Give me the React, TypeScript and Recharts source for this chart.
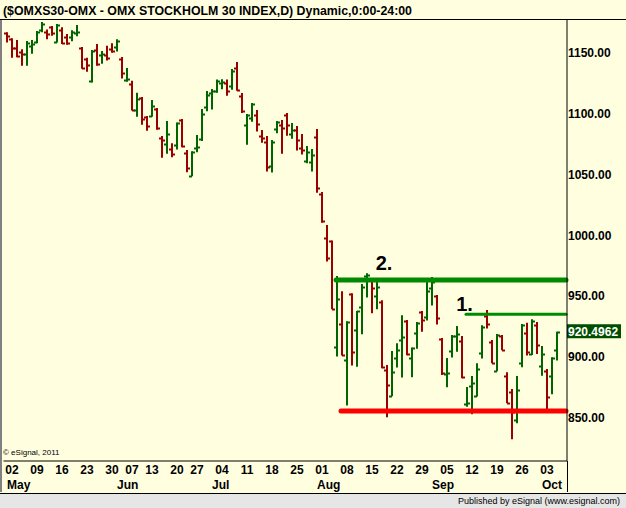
import React from 'react';
import { ComposedChart, Bar, Line, XAxis, YAxis, ReferenceLine, ReferenceDot } from 'recharts';

// ---- data ----
const dates = [
  '04-29',
  '05-02', '05-03', '05-04', '05-05', '05-06', '05-09', '05-10', '05-11', '05-12', '05-13',
  '05-16', '05-17', '05-18', '05-19', '05-20', '05-23', '05-24', '05-25', '05-26', '05-27',
  '05-30', '05-31', '06-01', '06-03', '06-07', '06-08', '06-09', '06-10',
  '06-13', '06-14', '06-15', '06-16', '06-17', '06-20', '06-21', '06-22', '06-23',
  '06-27', '06-28', '06-29', '06-30', '07-01', '07-04', '07-05', '07-06', '07-07', '07-08',
  '07-11', '07-12', '07-13', '07-14', '07-15', '07-18', '07-19', '07-20', '07-21', '07-22',
  '07-25', '07-26', '07-27', '07-28', '07-29', '08-01', '08-02', '08-03', '08-04', '08-05',
  '08-08', '08-09', '08-10', '08-11', '08-12', '08-15', '08-16', '08-17', '08-18', '08-19',
  '08-22', '08-23', '08-24', '08-25', '08-26', '08-29', '08-30', '08-31', '09-01', '09-02',
  '09-05', '09-06', '09-07', '09-08', '09-09', '09-12', '09-13', '09-14', '09-15', '09-16',
  '09-19', '09-20', '09-21', '09-22', '09-23', '09-26', '09-27', '09-28', '09-29', '09-30',
  '10-03', '10-04', '10-05',
];
const ghostDates = ['g1', 'g2'];

const opens = [
  1166.9, 1161.7, 1154.0, 1150.7, 1149.1, 1155.9, 1158.9, 1168.8, 1167.2, 1171.5,
  1159.0, 1169.4, 1163.0, 1163.0, 1166.3, 1154.3, 1145.2, 1127.4, 1152.9, 1148.5,
  1148.5, 1153.5, 1154.8, 1145.2, 1128.0, 1124.7, 1103.0, 1113.4, 1097.5, 1098.6,
  1104.4, 1080.6, 1075.1, 1071.5, 1074.3, 1095.1, 1067.9, 1049.3, 1072.3, 1079.2,
  1105.8, 1117.6, 1119.2, 1125.2, 1125.2, 1123.0, 1137.6, 1114.8, 1090.7, 1096.4,
  1098.9, 1081.6, 1077.0, 1057.2, 1087.7, 1090.9, 1098.9, 1083.3, 1086.6, 1071.8,
  1061.4, 1060.3, 1080.8, 1034.2, 997.8, 995.6, 908.7, 927.3, 897.7, 952.3,
  922.1, 941.0, 966.5, 963.5, 950.3, 945.4, 889.2, 868.1, 899.4, 914.2,
  929.5, 899.6, 919.6, 937.2, 932.8, 956.6, 950.6, 915.3, 885.9, 905.3,
  917.2, 913.3, 861.7, 876.3, 868.1, 903.2, 933.9, 912.8, 888.6, 917.4,
  884.5, 871.1, 848.1, 895.0, 920.2, 902.6, 926.5, 892.8, 888.6, 884.5,
  905.9,
];
const highs = [
  1167.2, 1162.2, 1160.9, 1153.2, 1160.0, 1160.9, 1168.3, 1175.7, 1169.4, 1172.4,
  1174.0, 1171.3, 1165.8, 1168.8, 1173.2, 1155.1, 1146.3, 1152.6, 1157.6, 1151.8,
  1156.2, 1158.1, 1161.4, 1146.9, 1137.8, 1127.4, 1117.5, 1114.0, 1098.4, 1111.5,
  1105.0, 1081.9, 1094.3, 1075.9, 1092.9, 1095.9, 1070.4, 1069.3, 1082.7, 1104.1,
  1118.9, 1120.6, 1128.3, 1128.5, 1128.3, 1137.0, 1142.8, 1117.3, 1100.0, 1109.0,
  1103.3, 1086.8, 1081.9, 1078.6, 1094.2, 1095.1, 1100.8, 1092.6, 1090.1, 1083.6,
  1073.7, 1071.2, 1087.7, 1035.9, 1008.7, 995.9, 966.8, 954.2, 929.5, 952.5,
  938.0, 960.2, 969.0, 964.3, 965.1, 946.8, 893.6, 905.1, 911.4, 934.5,
  930.6, 907.9, 929.0, 938.0, 963.5, 966.0, 951.2, 915.8, 899.4, 918.3,
  925.6, 917.4, 875.5, 884.5, 895.0, 926.2, 938.8, 914.1, 919.1, 918.2,
  887.6, 873.9, 884.5, 927.3, 928.4, 931.1, 928.9, 909.2, 890.3, 899.9,
  921.0,
];
const lows = [
  1158.7, 1146.3, 1146.6, 1139.7, 1139.7, 1149.6, 1158.1, 1167.2, 1161.4, 1164.4,
  1158.7, 1157.6, 1157.0, 1159.8, 1163.9, 1137.3, 1134.8, 1125.8, 1139.7, 1141.4,
  1143.9, 1150.4, 1151.3, 1129.1, 1126.6, 1102.8, 1097.8, 1091.2, 1086.3, 1097.8,
  1087.1, 1064.1, 1067.4, 1064.4, 1070.7, 1072.6, 1052.0, 1048.7, 1068.5, 1077.8,
  1102.2, 1103.6, 1117.5, 1120.3, 1115.1, 1120.0, 1119.2, 1100.8, 1074.8, 1093.7,
  1085.5, 1076.4, 1052.6, 1051.8, 1084.1, 1067.4, 1082.2, 1079.7, 1069.9, 1066.6,
  1059.4, 1052.6, 1035.3, 1010.6, 978.6, 939.4, 900.5, 901.3, 860.2, 893.1,
  892.2, 918.8, 949.0, 936.1, 939.4, 890.9, 850.6, 867.8, 891.4, 883.2,
  901.6, 883.5, 907.0, 921.0, 930.1, 942.4, 926.8, 885.4, 875.2, 899.8,
  904.5, 882.6, 859.3, 853.0, 867.6, 898.8, 923.5, 895.0, 888.4, 905.6,
  862.1, 832.5, 845.6, 891.7, 901.3, 901.8, 902.6, 884.8, 855.2, 869.5,
  897.2,
];
const closes = [
  1164.4, 1154.0, 1147.7, 1149.1, 1158.1, 1157.3, 1167.2, 1174.0, 1165.5, 1166.3,
  1173.2, 1158.1, 1158.1, 1167.2, 1167.2, 1137.6, 1140.0, 1151.8, 1140.8, 1149.3,
  1146.3, 1152.2, 1160.3, 1133.4, 1128.9, 1103.0, 1112.1, 1095.6, 1089.9, 1106.6,
  1088.5, 1078.6, 1083.3, 1067.1, 1092.3, 1073.4, 1055.6, 1068.8, 1073.1, 1100.0,
  1115.6, 1119.2, 1126.9, 1126.0, 1118.9, 1135.1, 1120.0, 1102.7, 1098.9, 1108.2,
  1091.8, 1080.0, 1056.1, 1077.0, 1093.4, 1088.2, 1090.7, 1086.6, 1078.3, 1070.1,
  1068.8, 1066.0, 1038.9, 1012.3, 981.3, 939.7, 947.6, 901.5, 929.2, 904.0,
  937.8, 957.5, 967.3, 956.9, 957.5, 892.0, 876.9, 887.6, 905.9, 916.9,
  902.4, 907.3, 927.9, 930.3, 954.5, 961.6, 932.0, 887.0, 886.7, 917.8,
  919.1, 884.0, 862.2, 878.5, 890.3, 925.1, 927.0, 895.2, 918.5, 906.2,
  862.6, 855.0, 873.0, 926.2, 904.0, 930.0, 910.0, 902.4, 867.3, 899.6,
  920.5,
];

const dayTicks = [
  '05-02', '05-09', '05-16', '05-23', '05-30', '06-07', '06-13', '06-20', '06-27',
  '07-04', '07-11', '07-18', '07-25', '08-01', '08-08', '08-15', '08-22', '08-29',
  '09-05', '09-12', '09-19', '09-26', '10-03',
];
const monthStarts: Record<string, string> = {
  '05-02': 'May', '06-01': 'Jun', '07-01': 'Jul', '08-01': 'Aug', '09-01': 'Sep', '10-03': 'Oct',
};
const priceTicks = [850, 900, 950, 1000, 1050, 1100, 1150];
const lastPrice = 920.4962;

const resistance2 = 963.5;
const resistance2From = '08-04';
const resistance1 = 935.3;
const resistance1From = '09-09';
const support = 855.8;
const supportFrom = '08-05';
const label2At = '08-18';
const label1At = '09-09';

const allDates = [...dates, ...ghostDates];
const allTicks = allDates.filter((d) => dayTicks.includes(d) || monthStarts[d] !== undefined);
const idx = (d: string) => allDates.indexOf(d);
const data = allDates.map((d, i) => ({
  d,
  o: i < opens.length ? opens[i] : null,
  h: i < highs.length ? highs[i] : null,
  l: i < lows.length ? lows[i] : null,
  c: i < closes.length ? closes[i] : null,
  r2: i >= idx(resistance2From) ? resistance2 : null,
  r1: i >= idx(resistance1From) ? resistance1 : null,
  s: i >= idx(supportFrom) ? support : null,
}));

// ---- styles ----
const BG = '#FFFFE0';
const UP = '#006400';
const DOWN = '#990000';
const LVL_GREEN = '#008A00';
const LVL_RED = '#FF0000';
const FONT = '"Liberation Sans", Arial, sans-serif';

const OhlcShape = (props: any) => {
  const { x, y, width, height, payload } = props;
  if (!payload || payload.h == null) return null;
  const { o, h, l, c } = payload;
  const cx = Math.round(x + width / 2);
  const span = h - l || 1;
  const yOf = (v: number) => y + ((h - v) / span) * height;
  const col = c >= o ? UP : DOWN;
  const yo = Math.round(yOf(o)) + 0.5;
  const yc = Math.round(yOf(c)) + 0.5;
  return (
    <g>
      <line x1={cx} x2={cx} y1={y} y2={y + height} stroke={col} strokeWidth={2} />
      <line x1={cx - 3} x2={cx} y1={yo} y2={yo} stroke={col} strokeWidth={2} />
      <line x1={cx} x2={cx + 3} y1={yc} y2={yc} stroke={col} strokeWidth={2} />
    </g>
  );
};

const XTick = (p: any) => {
  const { x, y, payload } = p;
  const v: string = payload.value;
  const m = monthStarts[v];
  const isDay = dayTicks.includes(v);
  return (
    <g>
      {isDay ? (
        <text x={x + 1} y={y + 13} textAnchor="middle" fontFamily={FONT} fontWeight="bold" fontSize={12} fill="#000">
          {v.slice(3)}
        </text>
      ) : null}
      {m ? (
        <text x={x - 4} y={y + 28} textAnchor="start" fontFamily={FONT} fontWeight="bold" fontSize={12} fill="#000">
          {m}
        </text>
      ) : null}
    </g>
  );
};

const YTick = (p: any) => {
  const { x, y, payload } = p;
  return (
    <text x={x} y={y + 4} textAnchor="start" fontFamily={FONT} fontWeight="bold" fontSize={12} fill="#000">
      {Number(payload.value).toFixed(2)}
    </text>
  );
};

const PriceTag = (p: any) => {
  const vb = p.viewBox || {};
  const xr = (vb.x || 0) + (vb.width || 0);
  const yy = vb.y || 0;
  return (
    <g>
      <rect x={xr} y={yy - 8} width={54} height={14} fill="#004F00" />
      <text x={xr + 1} y={yy + 3.5} fontFamily={FONT} fontWeight="bold" fontSize={12} fill="#FFFFFF">
        {lastPrice.toFixed(4)}
      </text>
    </g>
  );
};

const makeTextLabel = (txt: string, dx: number, dy: number) => (p: any) => {
  const vb = p.viewBox || {};
  return (
    <text x={(vb.x || 0) + dx} y={(vb.y || 0) + dy} textAnchor="middle" fontFamily={FONT} fontWeight="bold" fontSize={20} fill="#000">
      {txt}
    </text>
  );
};

export default function App() {
  return (
    <div style={{ position: 'absolute', left: 0, top: 0, width: 626, height: 508, background: BG, overflow: 'hidden' }}>
      <ComposedChart
        width={626}
        height={508}
        data={data}
        margin={{ top: 20, right: 0, bottom: 16, left: 3.5 }}
        barCategoryGap={0}
      >
        <XAxis
          dataKey="d"
          ticks={allTicks}
          interval={0}
          tick={<XTick />}
          tickLine={false}
          tickSize={0}
          tickMargin={0}
          height={31}
          axisLine={{ stroke: '#000', strokeWidth: 1 }}
          padding={{ left: 0, right: -1.5 }}
        />
        <YAxis
          orientation="right"
          type="number"
          domain={[814.6, 1177.3]}
          allowDataOverflow
          ticks={priceTicks}
          tick={<YTick />}
          tickLine={false}
          tickSize={0}
          tickMargin={1}
          width={59}
          axisLine={{ stroke: '#000', strokeWidth: 1 }}
        />
        <Bar dataKey={(e: any) => (e.h == null ? null : [e.l, e.h])} shape={<OhlcShape />} barSize={4} isAnimationActive={false} />
        <Line dataKey="r2" stroke={LVL_GREEN} strokeWidth={5} strokeLinecap="round" dot={false} activeDot={false} isAnimationActive={false} connectNulls={false} />
        <Line dataKey="r1" stroke={LVL_GREEN} strokeWidth={3} strokeLinecap="round" dot={false} activeDot={false} isAnimationActive={false} connectNulls={false} />
        <Line dataKey="s" stroke={LVL_RED} strokeWidth={5} strokeLinecap="round" dot={false} activeDot={false} isAnimationActive={false} connectNulls={false} />
        <ReferenceDot x={label2At} y={resistance2} r={0} fill="none" stroke="none" label={{ content: makeTextLabel('2.', -2, -9.5) }} />
        <ReferenceDot x={label1At} y={resistance1} r={0} fill="none" stroke="none" label={{ content: makeTextLabel('1.', -1.5, -3.6) }} />
        <ReferenceLine y={lastPrice} stroke="none" label={{ content: <PriceTag /> }} />
      </ComposedChart>
      <svg width={626} height={508} style={{ position: 'absolute', left: 0, top: 0, pointerEvents: 'none' }}>
        <text x={3} y={15} fontFamily={FONT} fontWeight="bold" fontSize={12} fill="#000" textLength={409} lengthAdjust="spacingAndGlyphs">
          ($OMXS30-OMX - OMX STOCKHOLM 30 INDEX,D) Dynamic,0:00-24:00
        </text>
        <line x1={0} x2={626} y1={19.5} y2={19.5} stroke="#000" strokeWidth={1} />
        <line x1={1} x2={1} y1={20} y2={492} stroke="#808080" strokeWidth={2} />
        <line x1={567.5} x2={567.5} y1={461} y2={492} stroke="#000" strokeWidth={1} />
        <text x={3} y={455} fontFamily={FONT} fontSize={8} fill="#000">© eSignal, 2011</text>
        <rect x={0} y={493} width={626} height={15} fill="#E6E6E6" />
        <line x1={0} x2={626} y1={493.5} y2={493.5} stroke="#000" strokeWidth={1} />
        <text x={620} y={504} textAnchor="end" fontFamily={FONT} fontSize={9} fill="#000">
          Published by eSignal (www.esignal.com)
        </text>
      </svg>
    </div>
  );
}
